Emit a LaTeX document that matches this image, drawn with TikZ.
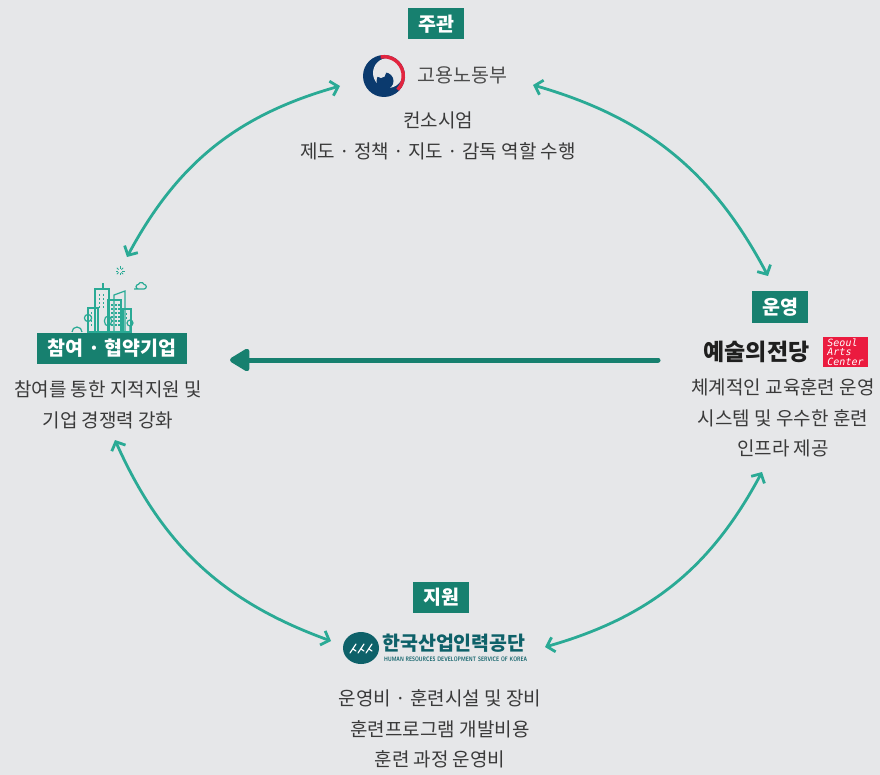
\documentclass[tikz,border=0pt]{standalone}
\usepackage{fontspec}
\usepackage{graphicx}
\setmainfont{Noto Sans CJK KR}
\newfontfamily\sacfont{DejaVu Sans Mono}
\usetikzlibrary{arrows.meta,positioning}
\definecolor{bgGray}{HTML}{E6E7E9}
\definecolor{tagTeal}{HTML}{17806F}
\definecolor{arcTeal}{HTML}{2AAA95}
\definecolor{textGray}{HTML}{3A3A3A}
\definecolor{molNavy}{HTML}{0B3A6E}
\definecolor{molRed}{HTML}{E2253F}
\definecolor{sacRed}{HTML}{EB1B3F}
\definecolor{hrdTeal}{HTML}{0E6169}
\tikzset{
  tag/.style = {fill=tagTeal, text=white, font=\fontsize{19.5}{19.5}\selectfont\bfseries,
                minimum height=31pt, inner xsep=10.5pt, inner ysep=0pt},
  desc/.style = {text=textGray, align=center, inner sep=0pt,
                 font=\fontsize{19}{30.5}\selectfont},
  link/.style = {draw=arcTeal, line width=2.8pt, line cap=round, line join=round,
                 {Straight Barb[length=7pt,width=15pt]}-{Straight Barb[length=7pt,width=15pt]}},
  flow/.style = {draw=tagTeal, line width=5pt, line cap=round,
                 -{Triangle[length=22pt,width=25pt,round]}},
  icon/.style = {draw=arcTeal, line width=1.2pt, fill=bgGray}
}
\begin{document}
\begin{tikzpicture}[x=1pt, y=1pt]
  \fill[bgGray] (0,0) rectangle (880,-775);
  \useasboundingbox (0,0) rectangle (880,-775);

  % 주관
  \node[tag] (tagMol) at (436,-24) {주관};
  \fill[molNavy] (384,-76) circle (21);
  \fill[bgGray] (388,-73) circle (15);
  \draw[molRed, line width=3.5pt] (384,-76) ++(100:19.3) arc (100:-45:19.3);
  \fill[molNavy] (385,-81) circle (8.5);
  \fill[bgGray] (381,-73) circle (5);
  \node[anchor=west, text=black!70, font=\fontsize{19.5}{19.5}\selectfont] (molName) at (414,-75) {고용노동부};
  \node[desc] (molDesc) at (438,-136) {컨소시엄\\제도 · 정책 · 지도 · 감독 역할 수행};

  % 운영
  \node[tag] (tagSac) at (780,-307) {운영};
  \node[anchor=west, text=black!88, font=\fontsize{23}{23}\selectfont\bfseries] (sacName) at (700,-352) {예술의전당};
  \node[fill=sacRed, text=white, minimum width=45pt, minimum height=30pt, inner sep=0.5pt,
        align=left, font=\sacfont\itshape\fontsize{10}{9.6}\selectfont] (sacBox) at (845.5,-352) {Seoul\\Arts\\Center};
  \node[desc] (sacDesc) at (783,-418) {체계적인 교육훈련 운영\\시스템 및 우수한 훈련\\인프라 제공};

  % 참여 · 협약기업
  \node[tag] (tagBiz) at (112,-348.5) {참여 · 협약기업};
  \begin{scope}[icon]
    \draw (95,-332) rectangle (109,-289);
    \draw (103,-289) -- (103,-283);
    \draw (114,-332) -- (114,-295) -- (125,-291) -- (125,-332);
    \draw (88,-332) rectangle (98,-308);
    \draw (108,-332) rectangle (121,-300);
    \draw (123,-332) rectangle (131,-309);
    \foreach \wx in {98.5,102.5} \foreach \wy in {-294,-298,-302,-306} \fill[arcTeal] (\wx,\wy) rectangle ++(1.8,-1.8);
    \foreach \wx in {111,115,118} \foreach \wy in {-304,-308,-312,-316,-320,-324} \fill[arcTeal] (\wx,\wy) rectangle ++(1.8,-1.8);
    \foreach \wx in {90.5,94} \foreach \wy in {-312,-316,-320,-324} \fill[arcTeal] (\wx,\wy) rectangle ++(1.8,-1.8);
    \foreach \wx in {125.5} \foreach \wy in {-313,-317} \fill[arcTeal] (\wx,\wy) rectangle ++(1.8,-1.8);
    \draw (88,-332) -- (88,-322) (88,-318) circle (3.6);
    \draw (108,-332) -- (108,-326) (108,-321) ellipse (3.6 and 5);
    \draw (130,-332) -- (130,-326) (130,-323) circle (3);
    \draw (72,-332) arc (180:0:5);
    \draw (134,-289) -- (144,-289) arc (-90:90:2.3) arc (20:160:3) arc (90:270:2.3);
    \foreach \a in {0,45,...,315} \draw[line width=0.8pt] (120,-271) ++(\a:2) -- ++(\a:2.5);
  \end{scope}
  \node[desc] (bizDesc) at (108,-405) {참여를 통한 지적지원 및\\기업 경쟁력 강화};

  % 지원
  \node[tag] (tagHrd) at (441,-597) {지원};
  \fill[hrdTeal] (361,-648) ellipse (18 and 16);
  \foreach \dx in {-8,0,8}
    \draw[white, line width=1.2pt, line cap=round] (361+\dx-3,-653) .. controls (361+\dx,-648) .. (361+\dx+3,-644)
                                                  (361+\dx,-649) -- (361+\dx+3,-651);
  \node[anchor=west, text=hrdTeal, inner sep=0pt, font=\fontsize{19.5}{19.5}\selectfont\bfseries] (hrdName) at (382,-643) {한국산업인력공단};
  \node[anchor=west, text=hrdTeal, inner sep=0pt] (hrdSub) at (384,-659)
    {\resizebox{143pt}{4.6pt}{\fontfamily{lmss}\selectfont\bfseries HUMAN RESOURCES DEVELOPMENT SERVICE OF KOREA}};
  \node[desc] (hrdDesc) at (440,-729) {운영비 · 훈련시설 및 장비\\훈련프로그램 개발비용\\훈련 과정 운영비};

  % connectors
  \coordinate (molL) at (340,-86);
  \coordinate (molR) at (533,-85);
  \coordinate (bizT) at (127,-257);
  \coordinate (bizB) at (115,-440);
  \coordinate (sacT) at (768,-276);
  \coordinate (sacB) at (762,-472);
  \coordinate (hrdL) at (331,-641);
  \coordinate (hrdR) at (545,-647);
  \coordinate (flowFrom) at (658,-360);
  \coordinate (flowTo) at (230,-360);
  \draw[link] (molL) to[bend right=23] (bizT);
  \draw[link] (molR) to[bend left=23] (sacT);
  \draw[link] (bizB) to[bend right=23] (hrdL);
  \draw[link] (hrdR) to[bend right=23] (sacB);
  \draw[flow] (flowFrom) -- (flowTo);
\end{tikzpicture}
\end{document}
